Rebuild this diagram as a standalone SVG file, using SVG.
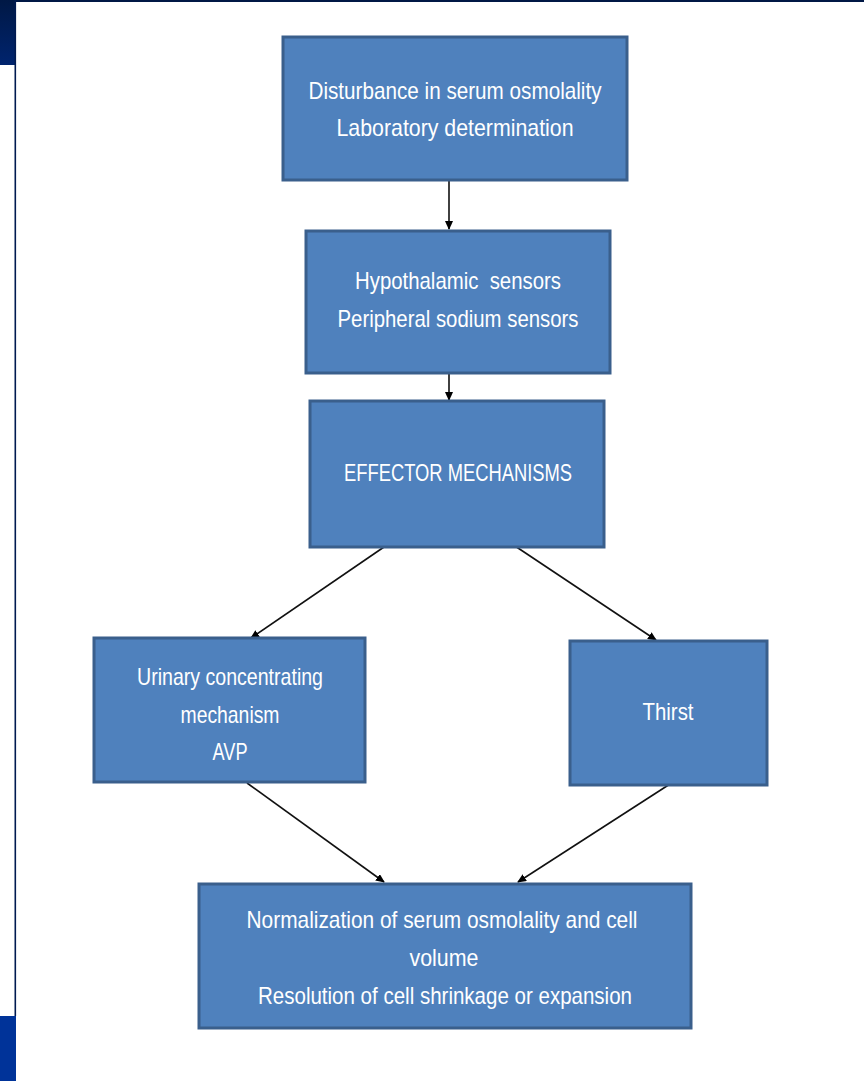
<svg xmlns="http://www.w3.org/2000/svg" width="864" height="1081" viewBox="0 0 864 1081">
<defs>
<linearGradient id="navy" x1="0" y1="0" x2="0" y2="1">
<stop offset="0" stop-color="#001845"/>
<stop offset="1" stop-color="#00246e"/>
</linearGradient>
<marker id="arr" markerWidth="10" markerHeight="10" refX="8" refY="4" orient="auto" markerUnits="userSpaceOnUse">
<path d="M0,0 L9,4 L0,8 Z" fill="#000"/>
</marker>
<style>
.box{fill:#4f81bd;stroke:#3a5f8c;stroke-width:3}
.t{font-family:"Liberation Sans",Arial,sans-serif;font-size:24px;fill:#ffffff;text-anchor:middle;white-space:pre}
.c{stroke:#111;stroke-width:1.6;fill:none;marker-end:url(#arr)}
</style>
</defs>
<rect x="0" y="0" width="864" height="1081" fill="#ffffff"/>
<g id="frame">
<rect x="0" y="0" width="864" height="2" fill="#001845"/>
<rect x="0" y="0" width="15" height="65" fill="url(#navy)"/>
<rect x="14.5" y="0" width="1.6" height="1016" fill="#001a50"/>
<rect x="0" y="1016" width="16" height="65" fill="#003399"/>
</g>
<g id="connectors">
<line class="c" x1="449" y1="181" x2="449" y2="229"/>
<line class="c" x1="449" y1="373" x2="449" y2="400"/>
<line class="c" x1="384" y1="547" x2="251" y2="638"/>
<line class="c" x1="515" y1="546" x2="656" y2="640"/>
<line class="c" x1="247" y1="783" x2="384" y2="882"/>
<line class="c" x1="670" y1="784" x2="518" y2="882"/>
</g>
<g id="n1">
<rect class="box" x="283" y="37" width="344" height="143"/>
<text class="t" x="455" y="99" textLength="293" lengthAdjust="spacingAndGlyphs">Disturbance in serum osmolality</text>
<text class="t" x="455" y="136" textLength="237" lengthAdjust="spacingAndGlyphs">Laboratory determination</text>
</g>
<g id="n2">
<rect class="box" x="306" y="231" width="304" height="142"/>
<text class="t" x="458" y="289" textLength="206" lengthAdjust="spacingAndGlyphs">Hypothalamic  sensors</text>
<text class="t" x="458" y="327" textLength="241" lengthAdjust="spacingAndGlyphs">Peripheral sodium sensors</text>
</g>
<g id="n3">
<rect class="box" x="310" y="401" width="294" height="146"/>
<text class="t" x="458" y="481" textLength="228" lengthAdjust="spacingAndGlyphs">EFFECTOR MECHANISMS</text>
</g>
<g id="n4">
<rect class="box" x="94" y="638" width="271" height="144"/>
<text class="t" x="230" y="685" textLength="186" lengthAdjust="spacingAndGlyphs">Urinary concentrating</text>
<text class="t" x="230" y="723" textLength="99" lengthAdjust="spacingAndGlyphs">mechanism</text>
<text class="t" x="230" y="760" textLength="35" lengthAdjust="spacingAndGlyphs">AVP</text>
</g>
<g id="n5">
<rect class="box" x="570" y="641" width="197" height="144"/>
<text class="t" x="668" y="720" textLength="51" lengthAdjust="spacingAndGlyphs">Thirst</text>
</g>
<g id="n6">
<rect class="box" x="199" y="884" width="492" height="144"/>
<text class="t" x="442" y="928" textLength="391" lengthAdjust="spacingAndGlyphs">Normalization of serum osmolality and cell</text>
<text class="t" x="444" y="966" textLength="69" lengthAdjust="spacingAndGlyphs">volume</text>
<text class="t" x="445" y="1004" textLength="374" lengthAdjust="spacingAndGlyphs">Resolution of cell shrinkage or expansion</text>
</g>
</svg>
